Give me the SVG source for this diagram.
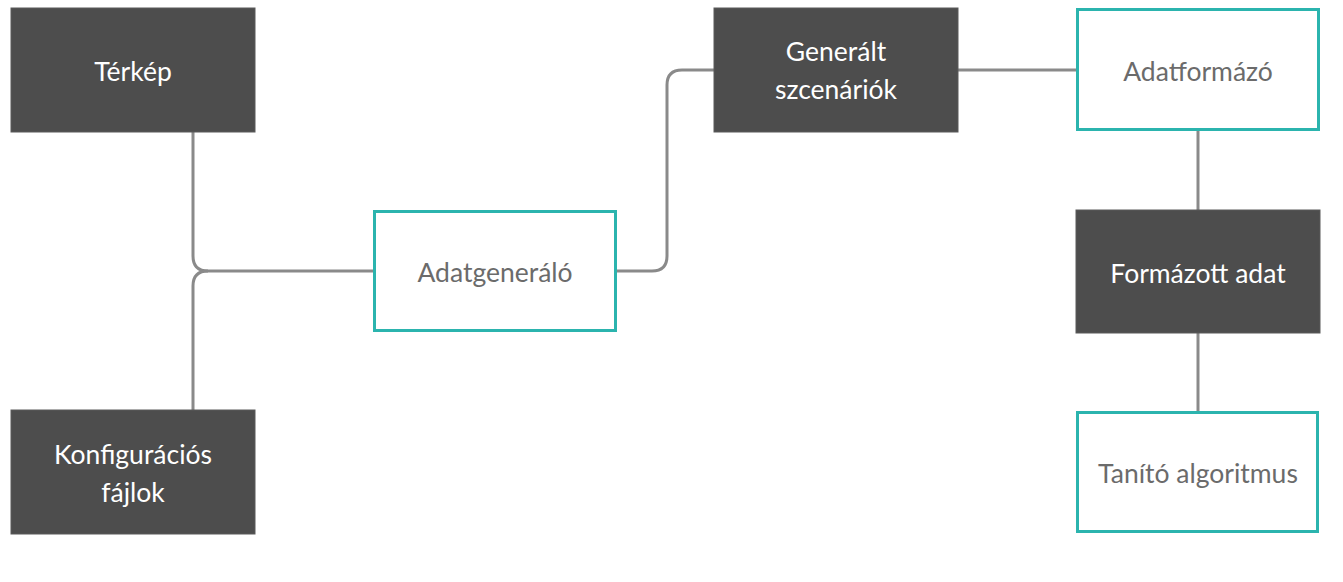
<svg xmlns="http://www.w3.org/2000/svg" width="1343" height="582" viewBox="0 0 1343 582">
<style>
.dark rect{fill:#4d4d4d;stroke:#5a5a5a;stroke-width:1}
.light rect{fill:#fff;stroke:#2bb4ae;stroke-width:3}
text{font-family:Lato,"Liberation Sans",sans-serif;font-size:26.5px;text-anchor:middle;dominant-baseline:central}
.dark text{fill:#fff}
.light text{fill:#6b6b6b}
#connectors path{fill:none;stroke:#8a8a8a;stroke-width:3}
</style>
<rect width="1343" height="582" fill="#fff"/>
<g id="connectors">
<path d="M193,132 V256 Q193,271 208,271 H374"/>
<path d="M193,410 V286 Q193,271 208,271"/>
<path d="M617,271 H652 Q667,271 667,256 V85 Q667,70 682,70 H714"/>
<path d="M958,70 H1076"/>
<path d="M1198,131 V210"/>
<path d="M1198,333 V411"/>
</g>
<g id="terkep" class="dark"><rect x="11" y="8" width="244" height="124"/><text x="133" y="71">Térkép</text></g>
<g id="konfig" class="dark"><rect x="11" y="410" width="244" height="124"/><text x="133" y="454">Konfigurációs</text><text x="133" y="492">fájlok</text></g>
<g id="adatgeneralo" class="light"><rect x="374.5" y="211.5" width="241" height="119"/><text x="495" y="272">Adatgeneráló</text></g>
<g id="generalt" class="dark"><rect x="714" y="8" width="244" height="124"/><text x="836" y="51">Generált</text><text x="836" y="89">szcenáriók</text></g>
<g id="adatformazo" class="light"><rect x="1077.5" y="9.5" width="241" height="120"/><text x="1198" y="71">Adatformázó</text></g>
<g id="formazott" class="dark"><rect x="1076" y="210" width="244" height="123"/><text x="1198" y="273">Formázott adat</text></g>
<g id="tanito" class="light"><rect x="1077.5" y="412.5" width="240" height="119"/><text x="1198" y="473">Tanító algoritmus</text></g>
</svg>
